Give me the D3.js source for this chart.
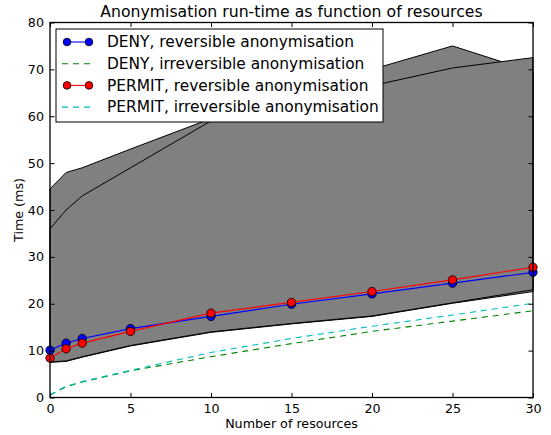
<!DOCTYPE html>
<html><head><meta charset="utf-8">
<script src="https://cdn.jsdelivr.net/npm/d3@7"></script>
<style>body{margin:0;background:#fff}svg{display:block}text{font-family:"DejaVu Sans",sans-serif}</style>
</head><body>
<script>
const resources = [0, 1, 2, 5, 10, 15, 20, 25, 30];
const denyReversible = [10.1, 11.6, 12.6, 14.7, 17.3, 19.9, 22.1, 24.4, 26.7];
const denyIrreversible = [0.5, 2.3, 3.3, 5.7, 8.7, 11.5, 14.1, 16.3, 18.5];
const permitReversible = [8.4, 10.4, 11.6, 14.1, 18.0, 20.3, 22.6, 25.1, 27.8];
const permitIrreversible = [0.6, 2.4, 3.4, 5.8, 9.6, 12.6, 15.2, 17.6, 20.1];
const bandUpperA = [44.5, 48, 49, 53, 59.5, 64.5, 70, 75, 69.5];
const bandLowerA = [7.5, 7.7, 8.6, 11.0, 13.9, 15.7, 17.3, 20.1, 22.6];
const bandUpperB = [36, 40, 43, 49, 59, 63, 66.5, 70.3, 72.5];
const bandLowerB = [7.6, 7.8, 8.7, 11.1, 14.0, 15.8, 17.4, 20.2, 23.0];
const xTicks = [0, 5, 10, 15, 20, 25, 30];
const yTicks = [0, 10, 20, 30, 40, 50, 60, 70, 80];
const legendLabels = ["DENY, reversible anonymisation", "DENY, irreversible anonymisation",
  "PERMIT, reversible anonymisation", "PERMIT, irreversible anonymisation"];

const W = 551, H = 435;
const L = 50, R = 533, T = 22.5, B = 397.5;
const svg = d3.select("body").append("svg").attr("width", W).attr("height", H);
const x = d3.scaleLinear().domain([0, 30]).range([L, R]);
const y = d3.scaleLinear().domain([0, 80]).range([B, T]);

const idx = d3.range(resources.length);
function band(up, lo) {
  const area = d3.area().x(i => x(resources[i])).y0(i => y(lo[i])).y1(i => y(up[i]));
  svg.append("path").attr("d", area(idx)).attr("fill", "#808080")
    .attr("stroke", "#000").attr("stroke-width", 1);
}
band(bandUpperA, bandLowerA);
band(bandUpperB, bandLowerB);

const line = arr => d3.line().x(i => x(resources[i])).y(i => y(arr[i]))(idx);
svg.append("path").attr("d", line(denyIrreversible)).attr("fill", "none")
  .attr("stroke", "#008000").attr("stroke-width", 1.1).attr("stroke-dasharray", "6,5");
svg.append("path").attr("d", line(permitIrreversible)).attr("fill", "none")
  .attr("stroke", "#00bfbf").attr("stroke-width", 1.1).attr("stroke-dasharray", "6,5");

function markedLine(arr, col) {
  svg.append("path").attr("d", line(arr)).attr("fill", "none")
    .attr("stroke", col).attr("stroke-width", 1.1);
  svg.append("g").selectAll("circle").data(idx).join("circle")
    .attr("cx", i => x(resources[i])).attr("cy", i => y(arr[i])).attr("r", 4.2)
    .attr("fill", col).attr("stroke", "#000").attr("stroke-width", 0.8);
}
markedLine(denyReversible, "#0000ff");
markedLine(permitReversible, "#ff0000");

// axes (inward ticks on all sides)
const ax = [
  [d3.axisBottom(x).tickValues(xTicks).tickSize(-4.5), `translate(0,${B})`, true],
  [d3.axisTop(x).tickValues(xTicks).tickSize(-4.5), `translate(0,${T})`, false],
  [d3.axisLeft(y).tickValues(yTicks).tickSize(-4.5), `translate(${L},0)`, true],
  [d3.axisRight(y).tickValues(yTicks).tickSize(-4.5), `translate(${R},0)`, false]
];
ax.forEach(([a, tr, lab]) => {
  const g = svg.append("g").attr("transform", tr).call(a.tickPadding(lab ? 6 : 0));
  g.select(".domain").remove();
  g.selectAll(".tick line").attr("stroke", "#000").attr("stroke-width", 1);
  if (!lab) g.selectAll(".tick text").remove();
  else g.selectAll(".tick text").attr("font-size", 12.7).attr("fill", "#000")
    .attr("font-family", "DejaVu Sans");
});
svg.append("rect").attr("x", L).attr("y", T).attr("width", R - L).attr("height", B - T)
  .attr("fill", "none").attr("stroke", "#000").attr("stroke-width", 1.3);

// title and labels
svg.append("text").attr("x", (L + R) / 2).attr("y", 17).attr("text-anchor", "middle")
  .attr("font-size", 15.7).text("Anonymisation run-time as function of resources");
svg.append("text").attr("x", (L + R) / 2).attr("y", 428).attr("text-anchor", "middle")
  .attr("font-size", 12.7).text("Number of resources");
svg.append("text").attr("transform", `translate(23,${(T + B) / 2}) rotate(-90)`)
  .attr("text-anchor", "middle").attr("font-size", 12.7).text("Time (ms)");

// legend
const lg = svg.append("g");
lg.append("rect").attr("x", 56).attr("y", 29).attr("width", 327).attr("height", 93)
  .attr("fill", "#fff").attr("stroke", "#000").attr("stroke-width", 1);
const legStyles = [
  {col: "#0000ff", dash: null, mark: true},
  {col: "#008000", dash: "6,5", mark: false},
  {col: "#ff0000", dash: null, mark: true},
  {col: "#00bfbf", dash: "6,5", mark: false}
];
const rowY = [42, 63.7, 85.4, 107.1];
legendLabels.forEach((t, k) => {
  const s = legStyles[k], yy = rowY[k];
  const ln = lg.append("line").attr("x1", 63).attr("x2", 93).attr("y1", yy).attr("y2", yy)
    .attr("stroke", s.col).attr("stroke-width", 1.1);
  if (s.dash) ln.attr("stroke-dasharray", s.dash).attr("x1", 62);
  if (s.mark) [67, 89].forEach(cx => lg.append("circle").attr("cx", cx).attr("cy", yy).attr("r", 3.8)
    .attr("fill", s.col).attr("stroke", "#000").attr("stroke-width", 0.8));
  lg.append("text").attr("x", 107).attr("y", yy).attr("dy", "0.35em")
    .attr("font-size", 15.4).text(t);
});
</script>
</body></html>
